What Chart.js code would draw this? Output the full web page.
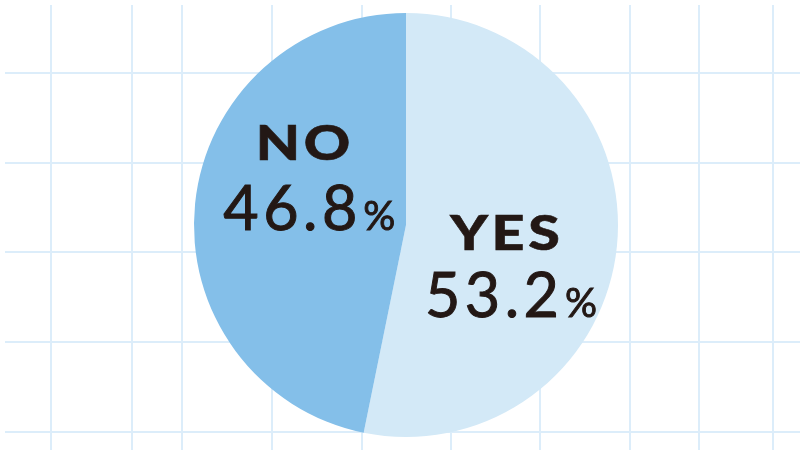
<!DOCTYPE html>
<html>
<head>
<meta charset="utf-8">
<script src="https://cdn.jsdelivr.net/npm/chart.js@4"></script>
<style>
  html, body { margin: 0; padding: 0; background: #ffffff; }
  #wrap { width: 800px; height: 450px; position: relative; }
</style>
</head>
<body>
<div id="wrap"><canvas id="c" width="800" height="450"></canvas></div>
<script>
// ---- data ----
const categories = ['YES', 'NO'];
const values = [53.2, 46.8];
const valueLabels = ['53.2', '46.8'];
const colors = ['#d3e9f7', '#84bfe9'];

// ---- decoration: background grid (page style, not data) ----
const gridStyle = {
  color: '#dcedfa',
  width: 2,
  xs: [51, 132, 182, 272, 362, 451, 540, 630, 699, 773],
  ys: [73, 163, 252, 342, 432],
  start: 5
};

const gridPlugin = {
  id: 'grid',
  beforeDraw(chart) {
    const ctx = chart.ctx;
    ctx.save();
    ctx.fillStyle = '#ffffff';
    ctx.fillRect(0, 0, chart.width, chart.height);
    ctx.strokeStyle = gridStyle.color;
    ctx.lineWidth = gridStyle.width;
    gridStyle.xs.forEach(x => {
      ctx.beginPath(); ctx.moveTo(x, gridStyle.start); ctx.lineTo(x, chart.height); ctx.stroke();
    });
    gridStyle.ys.forEach(y => {
      ctx.beginPath(); ctx.moveTo(gridStyle.start, y); ctx.lineTo(chart.width, y); ctx.stroke();
    });
    ctx.restore();
  }
};

// label placement relative to pie centre, in units of the radius
const labelPlace = [
  { cx: 0.467, head: 0.118, val: 0.434, valShift: 0.028 },   // YES
  { cx: -0.486, head: -0.307, val: 0.024, valShift: 0.030 }  // NO
];

function spacedWidth(ctx, text, spacing) {
  ctx.letterSpacing = spacing + 'px';
  const w = ctx.measureText(text).width - spacing;
  ctx.letterSpacing = '0px';
  return w;
}

const labelPlugin = {
  id: 'labels',
  afterDatasetsDraw(chart) {
    const ctx = chart.ctx;
    const meta = chart.getDatasetMeta(0);
    ctx.save();
    ctx.fillStyle = '#231815';
    ctx.strokeStyle = '#231815';
    ctx.textBaseline = 'alphabetic';
    ctx.textAlign = 'left';
    meta.data.forEach((arc, i) => {
      const r = arc.outerRadius;
      const p = labelPlace[i];
      const cx = arc.x + p.cx * r;
      // heading (wide heavy sans: horizontally stretched)
      const sx = 1.22;
      ctx.font = '900 47px Lato';
      const hs = 3;
      const hw = spacedWidth(ctx, categories[i], hs) * sx;
      ctx.save();
      ctx.translate(cx - hw / 2, arc.y + p.head * r);
      ctx.scale(sx, 1);
      ctx.letterSpacing = hs + 'px';
      ctx.fillText(categories[i], 0, 0);
      ctx.lineWidth = 0.6;
      ctx.strokeText(categories[i], 0, 0);
      ctx.restore();
      // value
      const vs = 4.5;
      ctx.font = '400 61px Lato';
      const vw = spacedWidth(ctx, valueLabels[i], vs);
      ctx.font = '400 40px Lato';
      const pw = ctx.measureText('%').width;
      const gap = 6;
      const total = vw + gap + pw;
      const vx = cx + p.valShift * r - total / 2;
      const vy = arc.y + p.val * r;
      ctx.font = '400 61px Lato';
      ctx.letterSpacing = vs + 'px';
      ctx.fillText(valueLabels[i], vx, vy);
      ctx.lineWidth = 1.0;
      ctx.strokeText(valueLabels[i], vx, vy);
      ctx.letterSpacing = '0px';
      ctx.font = '400 40px Lato';
      ctx.fillText('%', vx + vw + gap, vy);
      ctx.lineWidth = 0.9;
      ctx.strokeText('%', vx + vw + gap, vy);
    });
    ctx.restore();
  }
};

new Chart(document.getElementById('c'), {
  type: 'pie',
  data: {
    labels: categories,
    datasets: [{
      data: values,
      backgroundColor: colors,
      borderWidth: 0,
      hoverOffset: 0
    }]
  },
  options: {
    responsive: false,
    animation: false,
    events: [],
    layout: { padding: { top: 13, bottom: 13, left: 12, right: 0 } },
    plugins: {
      legend: { display: false },
      tooltip: { enabled: false },
      title: { display: false }
    }
  },
  plugins: [gridPlugin, labelPlugin]
});
</script>
</body>
</html>
